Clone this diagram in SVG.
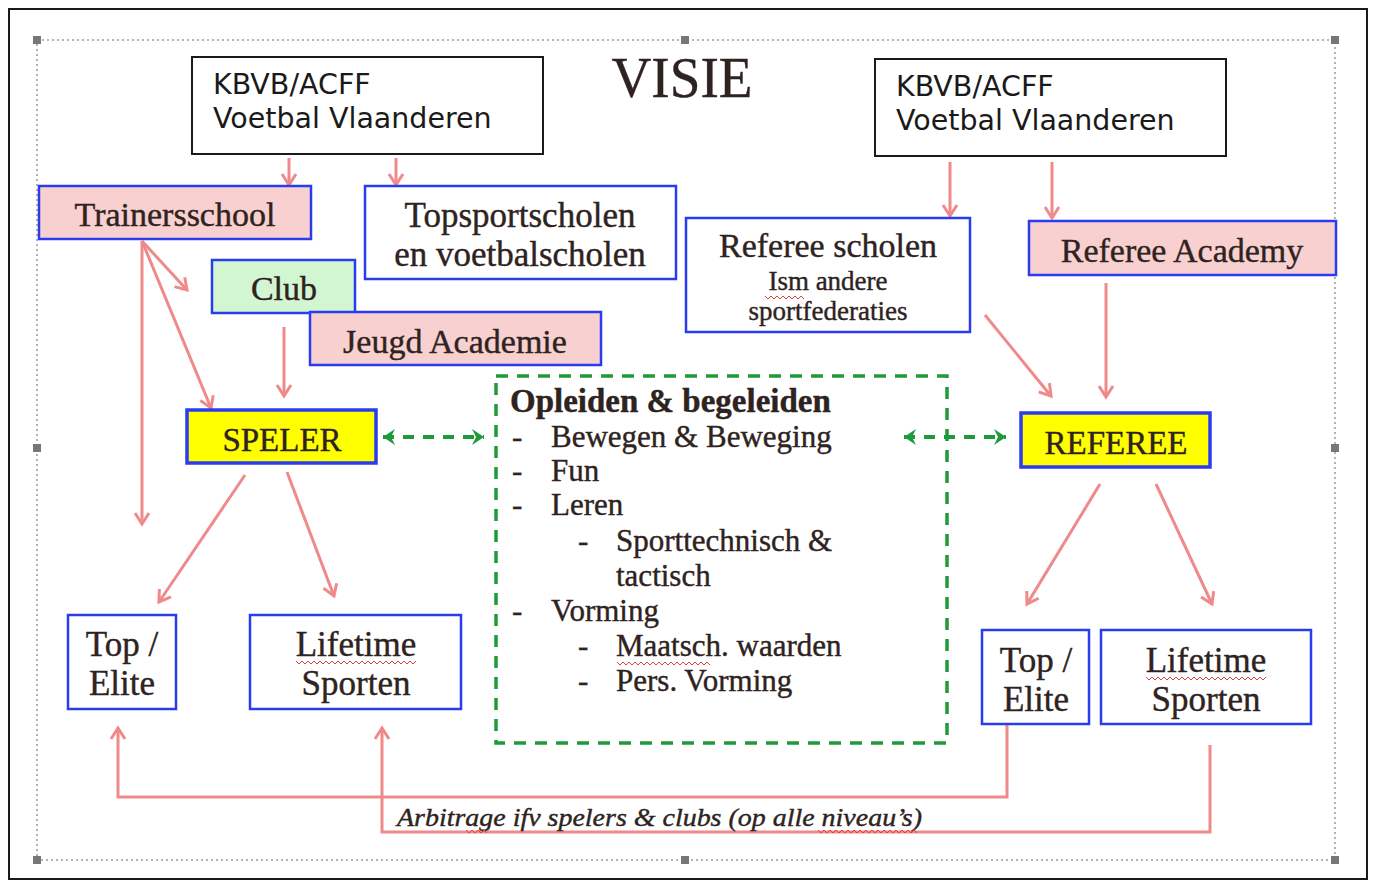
<svg xmlns="http://www.w3.org/2000/svg" width="1375" height="886" viewBox="0 0 1375 886">
<style>
.serif{font-family:"Liberation Serif","Times New Roman",serif;fill:#2e2320;stroke:#2e2320;stroke-width:0.4}
.sans{font-family:"DejaVu Sans",Verdana,sans-serif;fill:#1a1a1a;font-size:28.5px}
.box{stroke:#2a3cf0;stroke-width:2.5}
.pink{fill:#f9d0d0}
.white{fill:#ffffff}
.green{fill:#d2f5d2}
.yellow{fill:#ffff00;stroke:#2a3cf0;stroke-width:3.5}
.black{fill:#ffffff;stroke:#1a1a1a;stroke-width:2}
.red{fill:none;stroke:#f08a8a;stroke-width:3}
.gdash{fill:none;stroke:#1f9a3a;stroke-width:3.5;stroke-dasharray:12 9}
.wavy{fill:none;stroke:#e04040;stroke-width:1}
.handle{fill:#777}
.c{text-anchor:middle}
</style>
<defs>
<marker id="ah" markerUnits="userSpaceOnUse" markerWidth="24" markerHeight="24" refX="13" refY="9" orient="auto">
<path d="M2,2 L13,9 L2,16" fill="none" stroke="#f08a8a" stroke-width="3"/>
</marker>
<marker id="gh" markerUnits="userSpaceOnUse" markerWidth="20" markerHeight="20" refX="13" refY="8" orient="auto-start-reverse">
<path d="M1,0 L13,8 L1,16 L5,8 z" fill="#1f9a3a"/>
</marker>
</defs>
<rect x="0" y="0" width="1375" height="886" fill="#ffffff"/>
<rect x="9" y="9" width="1358" height="870" fill="none" stroke="#1a1a1a" stroke-width="2"/>
<rect x="37" y="40" width="1298" height="820" fill="none" stroke="#9a9a9a" stroke-width="1.5" stroke-dasharray="2 3"/>
<g id="handles">
<rect class="handle" x="33" y="36" width="8" height="8"/>
<rect class="handle" x="681" y="36" width="8" height="8"/>
<rect class="handle" x="1331" y="36" width="8" height="8"/>
<rect class="handle" x="33" y="444" width="8" height="8"/>
<rect class="handle" x="1331" y="444" width="8" height="8"/>
<rect class="handle" x="33" y="856" width="8" height="8"/>
<rect class="handle" x="681" y="856" width="8" height="8"/>
<rect class="handle" x="1331" y="856" width="8" height="8"/>
</g>
<text id="title" class="serif c" x="682" y="97" font-size="58" textLength="141" lengthAdjust="spacingAndGlyphs">VISIE</text>

<g id="connectors">
<line class="red" x1="289" y1="158" x2="289" y2="185" marker-end="url(#ah)"/>
<line class="red" x1="396" y1="158" x2="396" y2="185" marker-end="url(#ah)"/>
<line class="red" x1="950" y1="162" x2="950" y2="216" marker-end="url(#ah)"/>
<line class="red" x1="1052" y1="162" x2="1052" y2="218" marker-end="url(#ah)"/>
<line class="red" x1="142" y1="241" x2="187" y2="290" marker-end="url(#ah)"/>
<line class="red" x1="142" y1="241" x2="211" y2="408" marker-end="url(#ah)"/>
<line class="red" x1="142" y1="241" x2="142" y2="524" marker-end="url(#ah)"/>
<line class="red" x1="284" y1="327" x2="284" y2="396" marker-end="url(#ah)"/>
<line class="red" x1="985" y1="315" x2="1051" y2="396" marker-end="url(#ah)"/>
<line class="red" x1="1106" y1="283" x2="1106" y2="397" marker-end="url(#ah)"/>
<line class="red" x1="245" y1="475" x2="159" y2="602" marker-end="url(#ah)"/>
<line class="red" x1="287" y1="472" x2="334" y2="596" marker-end="url(#ah)"/>
<line class="red" x1="1100" y1="484" x2="1027" y2="604" marker-end="url(#ah)"/>
<line class="red" x1="1156" y1="484" x2="1212" y2="604" marker-end="url(#ah)"/>
<polyline class="red" points="1007,725 1007,797 118,797 118,728" marker-end="url(#ah)"/>
<polyline class="red" points="1210,745 1210,832 382,832 382,728" marker-end="url(#ah)"/>
<line stroke="#1f9a3a" stroke-width="4" stroke-dasharray="11 9" x1="383" y1="437" x2="484" y2="437" marker-start="url(#gh)" marker-end="url(#gh)"/>
<line stroke="#1f9a3a" stroke-width="4" stroke-dasharray="11 9" x1="904" y1="437" x2="1006" y2="437" marker-start="url(#gh)" marker-end="url(#gh)"/>
</g>

<g id="kbvb-left">
<rect class="black" x="192" y="57" width="351" height="97"/>
<text class="sans" x="213" y="94">KBVB/ACFF</text>
<text class="sans" x="213" y="128">Voetbal Vlaanderen</text>
</g>
<g id="kbvb-right">
<rect class="black" x="875" y="59" width="351" height="97"/>
<text class="sans" x="896" y="96">KBVB/ACFF</text>
<text class="sans" x="896" y="130">Voetbal Vlaanderen</text>
</g>
<g id="trainersschool">
<rect class="box pink" x="39" y="186" width="272" height="53"/>
<text class="serif c" x="175" y="226" font-size="34">Trainersschool</text>
</g>
<g id="topsportscholen">
<rect class="box white" x="365" y="186" width="311" height="93"/>
<text class="serif c" x="520" y="227" font-size="35">Topsportscholen</text>
<text class="serif c" x="520" y="266" font-size="35">en voetbalscholen</text>
</g>
<g id="club">
<rect class="box green" x="212" y="260" width="143" height="53"/>
<text class="serif c" x="284" y="300" font-size="34">Club</text>
</g>
<g id="jeugd-academie">
<rect class="box pink" x="310" y="312" width="291" height="53"/>
<text class="serif c" x="455" y="353" font-size="34">Jeugd Academie</text>
</g>
<g id="referee-scholen">
<rect class="box white" x="686" y="218" width="284" height="114"/>
<text class="serif c" x="828" y="257" font-size="34">Referee scholen</text>
<text class="serif c" x="828" y="290" font-size="27">Ism andere</text>
<text class="serif c" x="828" y="320" font-size="27">sportfederaties</text>
<path class="wavy" d="M765,296 l3,3 l3,-3 l3,3 l3,-3 l3,3 l3,-3 l3,3 l3,-3 l3,3 l3,-3 l3,3 l3,-3 l3,3"/>
</g>
<g id="referee-academy">
<rect class="box pink" x="1029" y="221" width="307" height="54"/>
<text class="serif c" x="1182" y="262" font-size="34">Referee Academy</text>
</g>
<g id="speler">
<rect class="yellow" x="187" y="410" width="189" height="53"/>
<text class="serif c" x="282" y="451" font-size="33">SPELER</text>
</g>
<g id="referee">
<rect class="yellow" x="1021" y="413" width="189" height="54"/>
<text class="serif c" x="1116" y="454" font-size="33">REFEREE</text>
</g>
<g id="opleiden">
<rect class="gdash" x="496" y="376" width="451" height="367"/>
<text class="serif" x="510" y="412" font-size="33" font-weight="bold">Opleiden &amp; begeleiden</text>
<g class="serif" font-size="31">
<text x="512" y="447">-</text><text x="551" y="447">Bewegen &amp; Beweging</text>
<text x="512" y="481">-</text><text x="551" y="481">Fun</text>
<text x="512" y="515">-</text><text x="551" y="515">Leren</text>
<text x="578" y="551">-</text><text x="616" y="551">Sporttechnisch &amp;</text>
<text x="616" y="586">tactisch</text>
<text x="512" y="621">-</text><text x="551" y="621">Vorming</text>
<text x="578" y="656">-</text><text x="616" y="656">Maatsch. waarden</text>
<text x="578" y="691">-</text><text x="616" y="691">Pers. Vorming</text>
</g>
<path class="wavy" d="M617,662 l3,3 l3,-3 l3,3 l3,-3 l3,3 l3,-3 l3,3 l3,-3 l3,3 l3,-3 l3,3 l3,-3 l3,3 l3,-3 l3,3 l3,-3 l3,3 l3,-3 l3,3 l3,-3 l3,3 l3,-3 l3,3 l3,-3 l3,3 l3,-3 l3,3 l3,-3 l3,3 l3,-3 l3,3"/>
</g>
<g id="top-elite-left">
<rect class="box white" x="68" y="615" width="108" height="94"/>
<text class="serif c" x="122" y="656" font-size="35">Top /</text>
<text class="serif c" x="122" y="695" font-size="35">Elite</text>
</g>
<g id="lifetime-left">
<rect class="box white" x="250" y="615" width="211" height="94"/>
<text class="serif c" x="356" y="656" font-size="35">Lifetime</text>
<text class="serif c" x="356" y="695" font-size="35">Sporten</text>
<path class="wavy" d="M296,661 l3,3 l3,-3 l3,3 l3,-3 l3,3 l3,-3 l3,3 l3,-3 l3,3 l3,-3 l3,3 l3,-3 l3,3 l3,-3 l3,3 l3,-3 l3,3 l3,-3 l3,3 l3,-3 l3,3 l3,-3 l3,3 l3,-3 l3,3 l3,-3 l3,3 l3,-3 l3,3 l3,-3 l3,3 l3,-3 l3,3 l3,-3 l3,3 l3,-3 l3,3 l3,-3 l3,3 l3,-3"/>
</g>
<g id="top-elite-right">
<rect class="box white" x="982" y="630" width="107" height="94"/>
<text class="serif c" x="1036" y="672" font-size="35">Top /</text>
<text class="serif c" x="1036" y="711" font-size="35">Elite</text>
</g>
<g id="lifetime-right">
<rect class="box white" x="1101" y="630" width="210" height="94"/>
<text class="serif c" x="1206" y="672" font-size="35">Lifetime</text>
<text class="serif c" x="1206" y="711" font-size="35">Sporten</text>
<path class="wavy" d="M1146,677 l3,3 l3,-3 l3,3 l3,-3 l3,3 l3,-3 l3,3 l3,-3 l3,3 l3,-3 l3,3 l3,-3 l3,3 l3,-3 l3,3 l3,-3 l3,3 l3,-3 l3,3 l3,-3 l3,3 l3,-3 l3,3 l3,-3 l3,3 l3,-3 l3,3 l3,-3 l3,3 l3,-3 l3,3 l3,-3 l3,3 l3,-3 l3,3 l3,-3 l3,3 l3,-3 l3,3 l3,-3"/>
</g>
<g id="arbitrage-label">
<text class="serif" x="397" y="826" font-size="26" font-style="italic" textLength="525" lengthAdjust="spacingAndGlyphs">Arbitrage ifv spelers &amp; clubs (op alle niveau’s)</text>
<path class="wavy" d="M466,830 l3,3 l3,-3 l3,3 l3,-3 l3,3 l3,-3 l3,3"/>
<path class="wavy" d="M818,830 l3,3 l3,-3 l3,3 l3,-3 l3,3 l3,-3 l3,3 l3,-3 l3,3 l3,-3 l3,3 l3,-3 l3,3 l3,-3 l3,3 l3,-3 l3,3 l3,-3 l3,3 l3,-3 l3,3 l3,-3 l3,3 l3,-3 l3,3 l3,-3 l3,3 l3,-3 l3,3 l3,-3 l3,3 l3,-3 l3,3"/>
</g>
</svg>
